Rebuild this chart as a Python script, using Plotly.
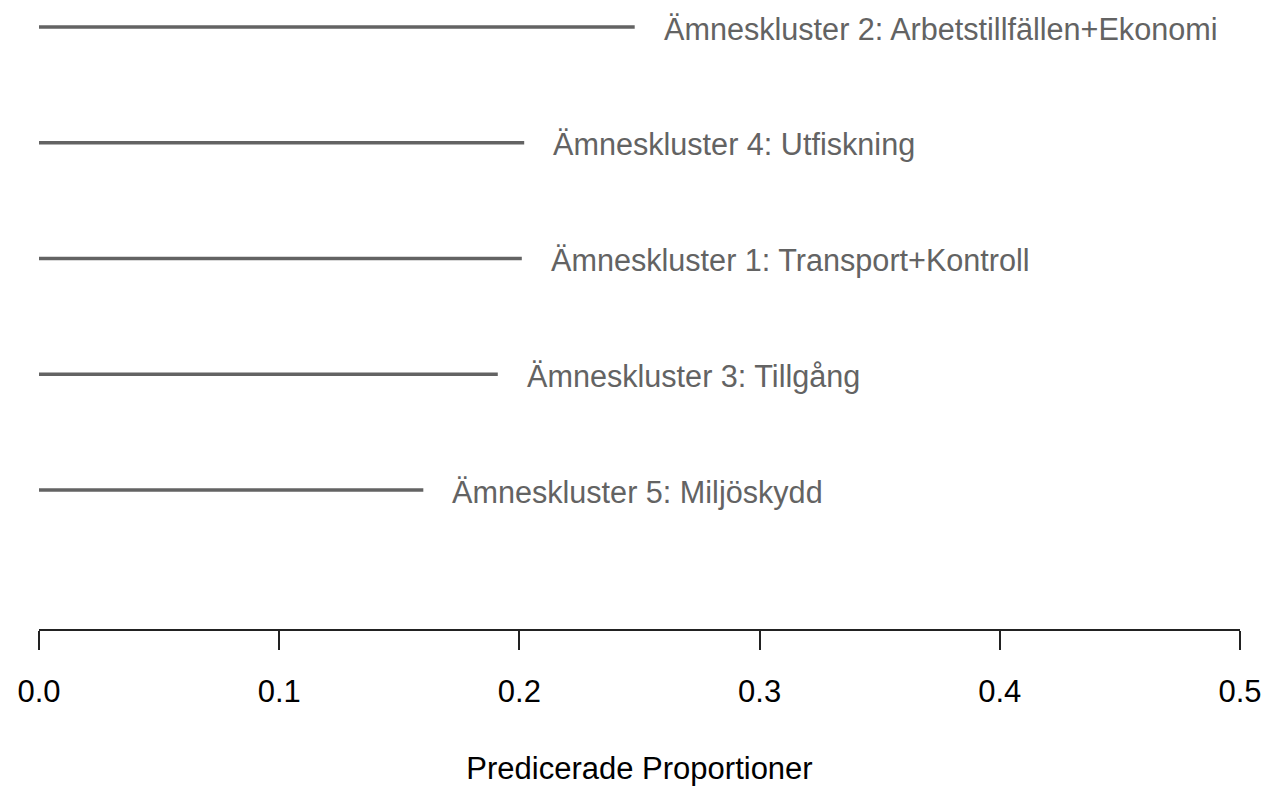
import plotly.graph_objects as go

# top to bottom, as in the figure
clusters = [
    "Ämneskluster 2: Arbetstillfällen+Ekonomi",
    "Ämneskluster 4: Utfiskning",
    "Ämneskluster 1: Transport+Kontroll",
    "Ämneskluster 3: Tillgång",
    "Ämneskluster 5: Miljöskydd",
]
proportions = [0.248, 0.202, 0.201, 0.191, 0.160]
positions = [5, 4, 3, 2, 1]

tick_vals = [0.0, 0.1, 0.2, 0.3, 0.4, 0.5]
tick_text = ["0.0", "0.1", "0.2", "0.3", "0.4", "0.5"]

GREY = "#636363"
FONT = "Liberation Sans, Arial, sans-serif"

fig = go.Figure()

for name, p, y in zip(clusters, proportions, positions):
    fig.add_trace(
        go.Scatter(
            x=[0, p],
            y=[y, y],
            mode="lines",
            line=dict(color=GREY, width=3.5),
            hoverinfo="skip",
            showlegend=False,
            cliponaxis=False,
        )
    )
    fig.add_annotation(
        x=p,
        y=y,
        text=name,
        showarrow=False,
        xanchor="left",
        yanchor="middle",
        xshift=27,
        yshift=-2,
        font=dict(family=FONT, size=30.6, color=GREY),
    )

fig.update_xaxes(
    range=[0, 0.5],
    tickvals=tick_vals,
    ticktext=tick_text,
    ticks="outside",
    ticklen=19,
    tickwidth=2,
    tickcolor="#222222",
    showline=True,
    linewidth=2,
    linecolor="#222222",
    showgrid=False,
    zeroline=False,
    tickfont=dict(family=FONT, size=31, color="black"),
    ticklabelstandoff=15,
    title=dict(
        text="Predicerade Proportioner",
        font=dict(family=FONT, size=31, color="black"),
        standoff=52,
    ),
)
fig.update_yaxes(
    range=[-0.2, 5.233],
    visible=False,
)

fig.update_layout(
    width=1265,
    height=786,
    paper_bgcolor="white",
    plot_bgcolor="white",
    margin=dict(l=39, r=25, t=0, b=157),
)

# drop the default page margin so the figure sits at the window's corner
fig.write_html(
    "out.html",
    config={"displayModeBar": False},
    post_script="document.body.style.margin='0';",
)
